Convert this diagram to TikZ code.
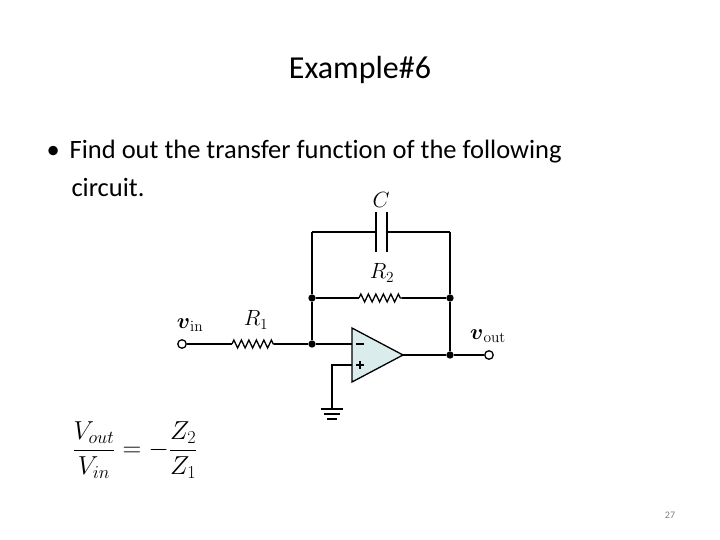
\RequirePackage{fix-cm}
\documentclass[tikz,border=0pt]{standalone}
\usepackage{amsmath}
\usepackage[no-math]{fontspec}
\setmainfont[Ligatures={NoCommon,NoRare,NoDiscretionary}]{Carlito}
\usetikzlibrary{decorations.pathmorphing}
\begin{document}
\begin{tikzpicture}[x=1pt,y=-1pt,
  w/.style={line width=1.3pt},
  res/.style={w,decorate,decoration={zigzag,segment length=7.5pt,amplitude=4pt}},
  dot/.style={circle,fill,inner sep=2.6pt},
  term/.style={circle,draw,line width=1.3pt,fill=white,inner sep=3pt},
  lab/.style={font=\fontsize{22}{22}\selectfont}]
\useasboundingbox (0,0) rectangle (720,540);
\node[font=\fontsize{32}{32}\selectfont] (title) at (360,70) {Example\#6};
\node[anchor=west,font=\fontsize{26.5}{30}\selectfont] (b1) at (43,152) {•\hspace{10pt}Find out the transfer function of the following};
\node[anchor=west,font=\fontsize{26.5}{30}\selectfont] (b2) at (68,187) {circuit.};
\coordinate (TL) at (312,232); \coordinate (TR) at (450,232);
\coordinate (C1) at (376,232); \coordinate (C2) at (387,232);
\node[dot] (J1) at (312,298) {}; \node[dot] (J2) at (450,298) {};
\node[dot] (J3) at (312,344) {}; \node[dot] (J4) at (450,355) {};
\node[term] (vin) at (182,344) {};
\node[term] (vout) at (489,355) {};
\coordinate (R1a) at (232,344); \coordinate (R1b) at (274,344);
\coordinate (R2a) at (359,298); \coordinate (R2b) at (402,298);
\coordinate (M) at (352,344); \coordinate (P) at (352,365); \coordinate (O) at (403,355);
\coordinate (G) at (332,365); \coordinate (G0) at (332,409);
\draw[w,fill={rgb,255:red,218;green,236;blue,236}] (352,328) -- (403,355) -- (352,382) -- cycle;
\draw[line width=1.6pt] (356,344) -- (364,344);
\draw[line width=1.6pt] (356,365) -- (364,365) (360,361) -- (360,369);
\draw[w] (TL) -- (C1) (C2) -- (TR);
\draw[line width=2.4pt] (376,212) -- (376,252) (387,212) -- (387,252);
\draw[w] (TL) -- (J1) -- (J3) (TR) -- (J2) -- (J4);
\draw[w] (J1) -- (R2a); \draw[res] (R2a) -- (R2b); \draw[w] (R2b) -- (J2);
\draw[w] (vin) -- (R1a); \draw[res] (R1a) -- (R1b); \draw[w] (R1b) -- (J3) -- (M);
\draw[w] (O) -- (J4) -- (vout);
\draw[w] (P) -- (G) -- (G0);
\draw[line width=1.6pt] (321,409) -- (343,409) (324,414) -- (340,414) (327,419) -- (337,419);
\node[lab] (lvin) at (190,325) {$\boldsymbol{v}_{\mathrm{in}}$};
\node[lab] (lvout) at (488,336) {$\boldsymbol{v}_{\mathrm{out}}$};
\node[lab] (lR1) at (256,320) {$R_1$};
\node[lab] (lR2) at (382,273) {$R_2$};
\node[lab] (lC) at (381,200) {$C$};
\node[font=\fontsize{26}{26}\selectfont] (eq) at (135,450) {$\dfrac{V_{out}}{V_{in}}=-\dfrac{Z_2}{Z_1}$};
\node[font=\fontsize{10}{10}\selectfont,text=gray] (pg) at (670,515) {27};
\end{tikzpicture}
\end{document}
